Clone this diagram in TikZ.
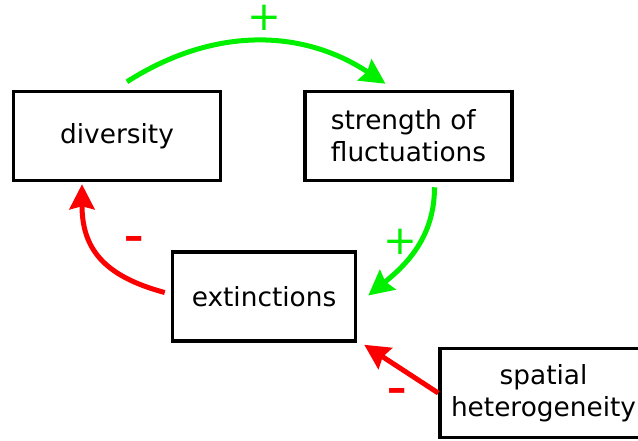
\documentclass[tikz,border=0pt]{standalone}
\usepackage{fontspec}
\setmainfont{DejaVu Sans}
\usetikzlibrary{arrows.meta, positioning}
\definecolor{loopgreen}{RGB}{0,240,0}
\definecolor{loopred}{RGB}{250,0,0}

\begin{document}
\begin{tikzpicture}[
  box/.style={rectangle, draw=black, line width=2pt, minimum width=#1,
              minimum height=1.78cm, align=center,
              font=\fontsize{15}{18.2}\selectfont},
  box/.default=4.14cm,
  arr/.style={-{Stealth[length=0.5cm, width=0.5cm, inset=0.06cm]},
              line width=2.85pt, #1},
  possign/.style={text=loopgreen, inner sep=0pt, font=\fontsize{23}{23}\selectfont},
  negsign/.style={text=loopred, inner sep=0pt, font=\bfseries\fontsize{22}{22}\selectfont},
  node distance=1.62cm
]
\useasboundingbox (0,0) rectangle (12.76,-8.8);

%% Boxes
\node[box] (diversity) at (2.34,-2.72) {diversity};
\node[box, align=left, right=of diversity] (strength) {strength of\\fluctuations};
\node[box=3.66cm, below=1.36cm of diversity, xshift=2.94cm] (extinctions) {extinctions};
\node[box, right=of extinctions, yshift=-1.93cm] (spatial) {spatial\\heterogeneity};

%% Feedback loop
\draw[arr=loopgreen] ([xshift=0.2cm, yshift=0.16cm]diversity.north) to[bend left=33]
    node[possign, xshift=0.16cm, yshift=0.48cm] {+} ([xshift=-0.46cm, yshift=0.12cm]strength.north);
\draw[arr=loopgreen] ([xshift=0.52cm, yshift=-0.1cm]strength.south) to[out=-90, in=39]
    node[possign, xshift=-0.3cm, yshift=0.12cm] {+} ([xshift=0.22cm, yshift=0.02cm]extinctions.east);
\draw[arr=loopred] ([xshift=-0.12cm, yshift=0.08cm]extinctions.west) to[out=165, in=-90, looseness=1.2]
    node[negsign, xshift=0.68cm, yshift=0.26cm] {–} ([xshift=-0.7cm, yshift=-0.04cm]diversity.south);

%% External driver
\draw[arr=loopred] (spatial.west) --
    node[negsign, xshift=-0.08cm, yshift=-0.52cm] {–} ([xshift=0.14cm, yshift=-0.04cm]extinctions.south east);
\end{tikzpicture}
\end{document}
